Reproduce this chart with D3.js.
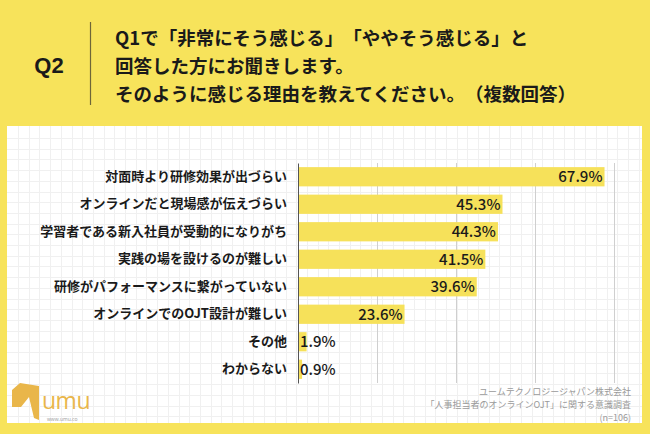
<!DOCTYPE html>
<html><head><meta charset="utf-8">
<script src="https://cdn.jsdelivr.net/npm/d3@7"></script>
<style>html,body{margin:0;padding:0;background:#F7E35B;}svg{display:block;text-spacing-trim:space-all;}</style>
</head><body>
<svg id="c" width="650" height="434"></svg>
<script>
const categories = ["対面時より研修効果が出づらい","オンラインだと現場感が伝えづらい","学習者である新入社員が受動的になりがち","実践の場を設けるのが難しい","研修がパフォーマンスに繋がっていない","オンラインでのOJT設計が難しい","その他","わからない"];
const values = [67.9,45.3,44.3,41.5,39.6,23.6,1.9,0.9];
const gridTicks = [17.5,35,52.5,70];
const titleLines = ["Q1で「非常にそう感じる」「ややそう感じる」と","回答した方にお聞きします。","そのように感じる理由を教えてください。（複数回答）"];
const footLines = ["ユームテクノロジージャパン株式会社","「人事担当者のオンラインOJT」に関する意識調査","(n=106)"];

const FONT = "'Noto Sans CJK JP','Noto Sans',sans-serif";
const svg = d3.select("#c");
svg.append("rect").attr("width",650).attr("height",434).attr("fill","#F7E35B");

// header
svg.append("text").attr("x",49).attr("y",73).attr("text-anchor","middle")
  .attr("font-family","'Liberation Sans',Arial,sans-serif").attr("font-weight",700).attr("font-size",22).attr("fill","#1a1a1a").text("Q2");
svg.append("line").attr("x1",90.5).attr("x2",90.5).attr("y1",22).attr("y2",105).attr("stroke","#6e6638").attr("stroke-width",1.2);
svg.selectAll("text.title").data(titleLines).join("text").attr("class","title")
  .attr("x",115).attr("y",(d,i)=>45+i*28).attr("font-family",FONT).attr("font-weight",700)
  .attr("font-size",18.5).attr("fill","#1a1a1a").text(d=>d);

// panel
const px=7, py=126, pw=635, ph=297;
svg.append("rect").attr("x",px).attr("y",py).attr("width",pw).attr("height",ph).attr("fill","#fff");
const grid = svg.append("g").attr("stroke","#f0f0f0").attr("stroke-width",1);
const step=10.7;
d3.range(px+11, px+pw, step).forEach(x=>grid.append("line").attr("x1",Math.round(x)+0.5).attr("x2",Math.round(x)+0.5).attr("y1",py).attr("y2",py+ph));
d3.range(py+12, py+ph, step).forEach(y=>grid.append("line").attr("y1",Math.round(y)+0.5).attr("y2",Math.round(y)+0.5).attr("x1",px).attr("x2",px+pw));

// chart
const x = d3.scaleLinear().domain([0,70]).range([298,614]);
const y = d3.scaleBand().domain(categories).range([163,383]).paddingInner(0.3).paddingOuter(0.15);

const xAxis = d3.axisBottom(x).tickValues(gridTicks).tickSize(-(383-163)).tickFormat("");
const gx = svg.append("g").attr("transform","translate(0,383)").call(xAxis);
gx.select(".domain").remove();
gx.selectAll(".tick line").attr("stroke","#cfcfcf").attr("stroke-width",1);

svg.selectAll("rect.bar").data(values).join("rect").attr("class","bar")
  .attr("x",x(0)).attr("y",(d,i)=>y(categories[i])).attr("width",d=>x(d)-x(0)).attr("height",y.bandwidth())
  .attr("fill","#F6E15A");

const yAxis = d3.axisLeft(y).tickSize(0).tickPadding(11);
const gy = svg.append("g").attr("transform","translate(298,0)").call(yAxis);
gy.select(".domain").attr("stroke","#555").attr("stroke-width",1);
gy.selectAll(".tick text").attr("font-family",FONT).attr("font-weight",700).attr("font-size",13).attr("fill","#1a1a1a");

svg.selectAll("text.val").data(values).join("text").attr("class","val")
  .attr("font-family",FONT).attr("font-weight",500).attr("font-size",15).attr("fill","#1a1a1a")
  .attr("y",(d,i)=>y(categories[i])+y.bandwidth()/2).attr("dy","0.36em")
  .each(function(d){
    const big = x(d)-x(0) > 50;
    d3.select(this).attr("x", big ? x(d)-2 : x(0)+2).attr("text-anchor", big ? "end":"start");
  })
  .text(d=>d.toFixed(1)+"%");

// footer
svg.selectAll("text.foot").data(footLines).join("text").attr("class","foot")
  .attr("x",631).attr("y",(d,i)=>395+i*13).attr("text-anchor","end").attr("font-family",FONT)
  .attr("font-size",9).attr("fill","#9a9a9a").text(d=>d);

// logo
const logo = svg.append("g");
logo.append("path").attr("d","M12,390 L20,383 L39,386 L39,420 L34,418 L29,397 L21,407 L12,407 Z").attr("fill","#E9B64A");
logo.append("text").attr("x",42).attr("y",409).attr("font-family","'Open Sans',sans-serif").attr("font-size",23)
  .attr("letter-spacing",-0.5).attr("fill","#E9B64A").text("umu");
logo.append("text").attr("x",47).attr("y",421).attr("font-family","'Open Sans',sans-serif").attr("font-size",5)
  .attr("fill","#999").text("www.umu.co");
</script>
</body></html>
